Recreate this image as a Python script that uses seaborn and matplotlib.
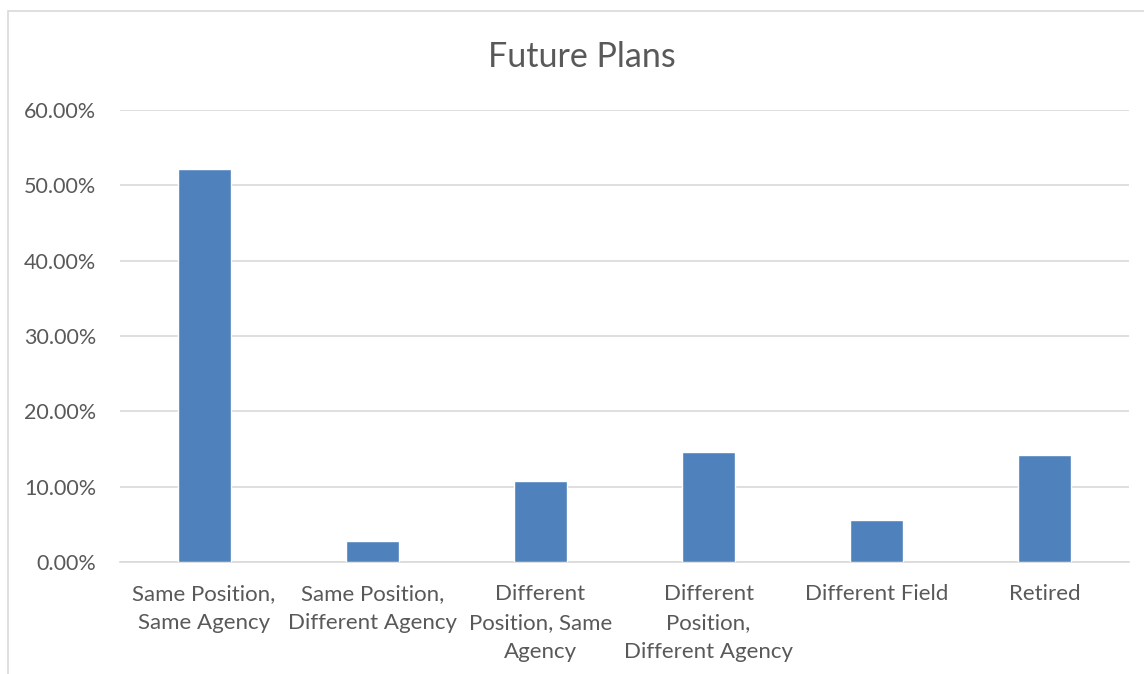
import matplotlib
matplotlib.use("Agg")
import matplotlib.pyplot as plt
import seaborn as sns
import pandas as pd
from matplotlib.ticker import FuncFormatter
from matplotlib.patches import Rectangle

categories = ["Same Position,\nSame Agency", "Same Position,\nDifferent Agency",
              "Different\nPosition, Same\nAgency", "Different\nPosition,\nDifferent Agency",
              "Different Field", "Retired"]
values = [0.522, 0.028, 0.108, 0.146, 0.056, 0.142]
title = "Future Plans"
yticks = [0, 0.1, 0.2, 0.3, 0.4, 0.5, 0.6]

sns.set_theme(style="white")
plt.rcParams['font.family'] = ['Lato', 'DejaVu Sans']

df = pd.DataFrame({"cat": categories, "val": values})
fig = plt.figure(figsize=(11.44, 6.74), dpi=100)
ax = fig.add_axes([120/1144, 1-562/674, (1129-120)/1144, (562-110)/674])
sns.barplot(data=df, x="cat", y="val", color="#4f81bd", saturation=1, width=0.315, ax=ax, zorder=3)

ax.set_ylim(0, 0.6)
ax.set_yticks(yticks)
ax.yaxis.set_major_formatter(FuncFormatter(lambda v, p: f"{v*100:.2f}%"))
ax.grid(axis="y", color="#d9d9d9", linewidth=1.2, zorder=0)
ax.set_axisbelow(True)
for s in ["top", "right", "left"]:
    ax.spines[s].set_visible(False)
ax.spines["bottom"].set_color("#d9d9d9")
ax.spines["bottom"].set_linewidth(1.2)
ax.tick_params(axis="both", length=0, colors="#595959", labelsize=15.5)
ax.tick_params(axis="x", pad=16, labelsize=16)
ax.tick_params(axis="y", pad=17)
for lbl in ax.get_xticklabels():
    lbl.set_linespacing(1.57)
ax.set_xlabel("")
ax.set_ylabel("")
fig.text(582/1144, 1-57/674, title, ha="center", va="center", fontsize=24.5, color="#595959")
fig.patches.append(Rectangle((8/1144, -0.1), 1.2, 1-11/674 + 0.1, transform=fig.transFigure,
                             fill=False, edgecolor="#d9d9d9", linewidth=1.2))
fig.savefig("out.png", dpi=100)
